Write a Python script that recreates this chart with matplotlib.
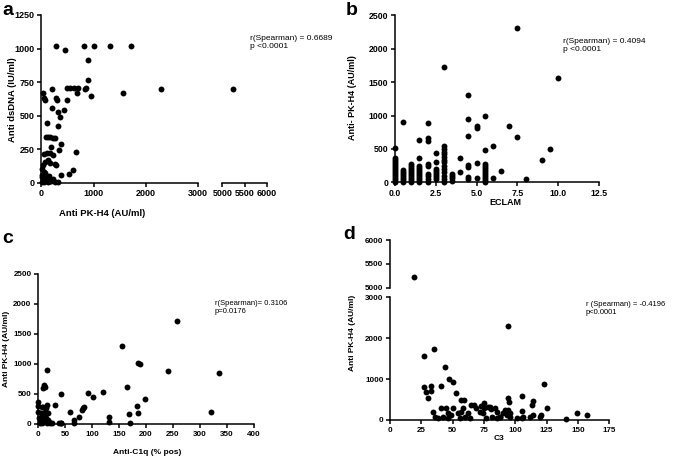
import matplotlib
matplotlib.use('Agg')
import numpy as np
import matplotlib.pyplot as plt

# ---- panel a: anti PK-H4 vs anti dsDNA
a_pkh4 = [290, 460, 820, 1000, 1310, 1720, 900, 890, 210, 500, 555, 620, 700, 850, 830,
          690, 945, 500, 300, 290, 30, 75, 60, 1570, 2300, 5230, 205, 435, 315, 355, 320, 110,
          85, 130, 170, 225, 270, 190, 370, 170, 110, 225, 50, 330, 655,
          125, 75, 160, 285, 270, 605, 530, 370,
          15, 35, 65, 95, 130, 160, 190, 225, 55, 120, 255, 320, 80, 5, 30, 10, 45, 100, 145, 20]
a_dsdna = [1020, 990, 1020, 1020, 1020, 1020, 915, 765, 695, 708, 708, 708, 708, 708, 695,
           665, 645, 620, 620, 630, 665, 620, 635, 665, 697, 697, 555, 540, 530, 487, 422, 442,
           343, 340, 340, 333, 336, 268, 286, 219, 224, 206, 211, 244, 231,
           169, 157, 149, 132, 139, 94, 65, 55,
           60, 35, 45, 20, 30, 15, 10, 25, 5, 8, 5, 8, 70, 100, 130, 40, 80, 12, 50, 3]

# ---- panel b: ECLAM vs anti PK-H4 (values grouped by ECLAM score)
b_levels = [0.0, 0.5, 1.0, 1.5, 2.0, 2.5, 3.0, 3.5, 4.0, 4.5, 5.0, 5.5, 6.0, 6.5, 7.0, 7.5, 8.0, 9.0, 9.5, 10.0]
b_values = [
    [510, 370, 330, 300, 270, 240, 210, 180, 150, 120, 90, 60, 30, 0],
    [900, 180, 150, 120, 90, 60, 30, 0],
    [280, 250, 220, 190, 160, 130, 100, 70, 40, 10],
    [635, 360, 250, 220, 190, 160, 130, 100, 70, 40, 10],
    [895, 670, 620, 270, 240, 130, 100, 50, 10],
    [445, 300, 200, 170, 140, 110, 80, 50],
    [1725, 545, 500, 460, 420, 380, 340, 300, 250, 200, 150, 100, 50, 0],
    [130, 100, 60, 20],
    [360, 160],
    [1310, 945, 695, 255, 225, 75, 45],
    [850, 820, 285, 60],
    [1000, 487, 270, 240, 210, 180, 150, 120, 90, 60, 30, 0],
    [537, 65],
    [166],
    [838],
    [2309, 678],
    [50],
    [341],
    [492],
    [1566],
]

# ---- panel c: anti-C1q vs anti PK-H4
c_c1q = [257, 156, 186, 188, 240, 335, 164, 120, 93, 101, 198, 184, 185, 320, 168, 170, 132, 132,
         83, 81, 85, 75, 67, 66, 60, 32, 43, 43, 38, 16, 12, 13, 9, 17, 0, 0, 0,
         7, 10, 15, 5, 9, 12, 15, 18, 21, 17, 10, 5, 2, 7, 23, 25, 13, 18, 4, 42]
c_pkh4 = [1722, 1306, 1011, 1000, 883, 850, 622, 533, 511, 444, 422, 300, 178, 194, 161, 22, 111, 39,
          270, 240, 280, 122, 67, 11, 194, 317, 506, 17, 11, 900, 656, 622, 594, 317, 372, 300, 205,
          289, 278, 261, 178, 122, 150, 94, 67, 39, 11, 39, 67, 94, 11, 11, 11, 205, 178, 20, 11]

# ---- panel d: C3 vs anti PK-H4
d_c3 = [19, 94, 27, 35, 44, 47, 50, 27, 33, 41, 28.5, 33, 30.5, 53, 56.5, 59, 54, 123, 105.5, 114, 113,
        94.5, 95, 105.5, 125.5, 149, 157, 140.5, 120.5, 119.5, 114.5, 112, 106.5, 105, 101, 95.5, 93,
        90.5, 88, 85, 84, 94, 95, 34.5, 36, 38.5, 41, 42.5, 45, 46.5, 46, 50.5, 57, 58.5, 60, 62,
        64.5, 67, 69, 73, 75, 78.5, 80.5, 81, 77, 64, 56, 49, 80, 85, 88, 92, 96, 72, 75, 74.5]
d_pkh4 = [5233, 2306, 1565, 1728, 1304, 1002, 937, 815, 839, 839, 693, 709, 530, 652, 497, 497, 171, 880,
          590, 460, 370, 530, 448, 220, 285, 171, 114, 16, 122, 81, 120, 80, 81, 57, 41, 81, 122,
          163, 81, 41, 285, 250, 180, 187, 81, 57, 285, 81, 285, 163, 41, 285, 204, 285, 81, 163,
          367, 367, 285, 350, 285, 326, 269, 81, 57, 57, 57, 122, 326, 204, 81, 245, 163, 204, 407, 160]

plt.rcParams['font.family'] = ['Liberation Sans', 'DejaVu Sans']
plt.rcParams['font.weight'] = 'bold'

W, H = 685, 457


def rect(l, t, r, b):
    # pixel box -> figure fraction
    return [l / W, 1 - b / H, (r - l) / W, (b - t) / H]


def ftext(x, y, s, **kw):
    fig.text(x / W, 1 - y / H, s, **kw)


def style(ax, size):
    for s in ('top', 'right'):
        ax.spines[s].set_visible(False)
    for s in ('left', 'bottom'):
        ax.spines[s].set_linewidth(1.1)
    ax.tick_params(direction='out', length=3.2, width=1.1, labelsize=size, pad=1.5)
    ax.patch.set_visible(False)


def dots(ax, x, y):
    ax.scatter(x, y, s=18, c='black', linewidths=0, clip_on=False, zorder=3)


fig = plt.figure(figsize=(6.85, 4.57), dpi=100)

# ---------------- a (broken x axis)
ax1 = fig.add_axes(rect(41.3, 15, 198, 182.7))
ax2 = fig.add_axes(rect(222.3, 15, 267, 182.7))
style(ax1, 6.5)
style(ax2, 6.5)
ax2.spines['left'].set_visible(False)
ax2.tick_params(left=False, labelleft=False)
ax_x = np.array(a_pkh4)
ax_y = np.array(a_dsdna)
dots(ax1, ax_x[ax_x <= 3000], ax_y[ax_x <= 3000])
dots(ax2, ax_x[ax_x >= 5000], ax_y[ax_x >= 5000])
ax1.set_xlim(0, 3000)
ax1.set_ylim(0, 1250)
ax1.set_yticks(range(0, 1251, 250))
ax1.set_xticks([0, 1000, 2000, 3000])
ax1.set_xticks([3000], minor=True)
ax2.set_xlim(5000, 6000)
ax2.set_ylim(0, 1250)
ax2.set_xticks([5000, 5500, 6000])
ax2.set_xticks([5000], minor=True)
for ax in (ax1, ax2):
    ax.tick_params(which='minor', direction='in', length=3.2, width=1.1)
ftext(13, 100, 'Anti dsDNA (IU/ml)', rotation=90, ha='center', va='center', fontsize=6.8)
ftext(102, 213, 'Anti PK-H4 (AU/ml)', ha='center', va='center', fontsize=6.8)
ftext(250, 35, 'r(Spearman) = 0.6689\np <0.0001', fontsize=6, fontweight='normal', va='top', linespacing=1.2)
ftext(2, 2, 'a', fontsize=14, va='top')

# ---------------- b
axb = fig.add_axes(rect(395, 15.3, 599, 182.3))
style(axb, 6.3)
bx = np.concatenate([[lv] * len(v) for lv, v in zip(b_levels, b_values)])
by = np.concatenate(b_values)
dots(axb, bx, by)
axb.set_xlim(0, 12.5)
axb.set_ylim(0, 2500)
axb.set_xticks(np.arange(0, 12.6, 2.5))
axb.set_xticklabels([f'{v:.1f}' for v in np.arange(0, 12.6, 2.5)])
axb.set_yticks(range(0, 2501, 500))
ftext(353, 98, 'Anti- PK-H4 (AU/ml)', rotation=90, ha='center', va='center', fontsize=6.5)
ftext(505, 203, 'ECLAM', ha='center', va='center', fontsize=6.5)
ftext(563, 38, 'r(Spearman) = 0.4094\np <0.0001', fontsize=6, fontweight='normal', va='top', linespacing=1.2)
ftext(346, 2, 'b', fontsize=14, va='top')

# ---------------- c
axc = fig.add_axes(rect(38, 274, 254, 424))
style(axc, 5.8)
dots(axc, c_c1q, c_pkh4)
axc.set_xlim(0, 400)
axc.set_ylim(0, 2500)
axc.set_xticks(range(0, 401, 50))
axc.set_yticks(range(0, 2501, 500))
ftext(7, 349, 'Anti PK-H4 (AU/ml)', rotation=90, ha='center', va='center', fontsize=6)
ftext(147, 452, 'Anti-C1q (% pos)', ha='center', va='center', fontsize=6)
ftext(215, 300, 'r(Spearman)= 0.3106\np=0.0176', fontsize=5.5, fontweight='normal', va='top', linespacing=1.2)
ftext(2, 230, 'c', fontsize=14, va='top')

# ---------------- d (broken y axis)
axd_lo = fig.add_axes(rect(390, 297.3, 609.3, 420))
axd_hi = fig.add_axes(rect(390, 240.3, 609.3, 287.7))
style(axd_lo, 5.8)
style(axd_hi, 5.8)
axd_hi.spines['bottom'].set_visible(False)
axd_hi.tick_params(bottom=False, labelbottom=False)
dx = np.array(d_c3)
dy = np.array(d_pkh4)
dots(axd_lo, dx[dy <= 3000], dy[dy <= 3000])
dots(axd_hi, dx[dy >= 5000], dy[dy >= 5000])
axd_lo.set_xlim(0, 175)
axd_hi.set_xlim(0, 175)
axd_lo.set_ylim(0, 3000)
axd_lo.set_yticks([0, 1000, 2000, 3000])
axd_lo.set_yticks([3000], minor=True)
axd_lo.set_xticks(range(0, 176, 25))
axd_hi.set_ylim(5000, 6000)
axd_hi.set_yticks([5000, 5500, 6000])
axd_hi.set_yticks([5000], minor=True)
for ax in (axd_lo, axd_hi):
    ax.tick_params(which='minor', direction='in', length=3.2, width=1.1)
ftext(353, 333, 'Anti PK-H4 (AU/ml)', rotation=90, ha='center', va='center', fontsize=6)
ftext(499, 438, 'C3', ha='center', va='center', fontsize=6)
ftext(585.7, 301, 'r (Spearman) = -0.4196\np<0.0001', fontsize=5.5, fontweight='normal', va='top', linespacing=1.2)
ftext(343, 226, 'd', fontsize=14, va='top')

fig.savefig('out.png', dpi=100)
